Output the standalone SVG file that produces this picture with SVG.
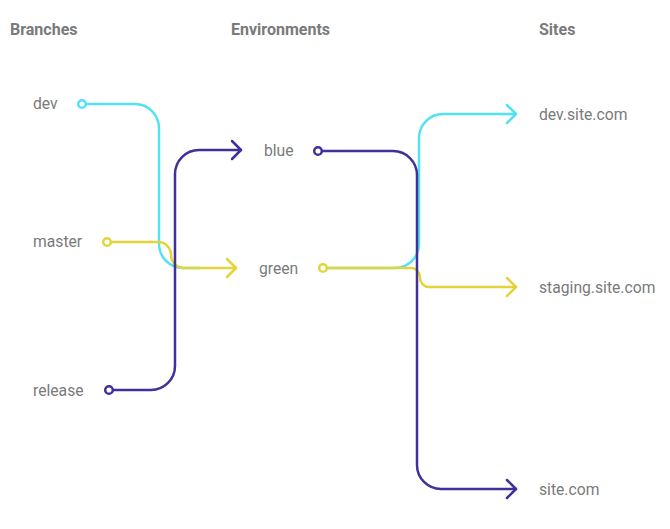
<svg xmlns="http://www.w3.org/2000/svg" width="670" height="529" viewBox="0 0 670 529">
<style>
.hdr{font-family:Roboto,"Liberation Sans",sans-serif;font-weight:bold;font-size:16px;fill:#7a7a7a}
.lbl{font-family:Roboto,"Liberation Sans",sans-serif;font-size:15.7px;fill:#7a7a7a}
.ln{fill:none;stroke-width:2.5;stroke-linecap:round;stroke-linejoin:round}
.cy{stroke:#52E2F2}
.ye{stroke:#E5D33A}
.pu{stroke:#40309A}
.dot{fill:#fff;stroke-width:2.5}
</style>
<rect width="670" height="529" fill="#fff"/>
<g id="headers">
<text class="hdr" x="10" y="35">Branches</text>
<text class="hdr" x="231" y="35">Environments</text>
<text class="hdr" x="539" y="35">Sites</text>
</g>
<g id="connectors">
<path class="ln cy" d="M82 104 H135 A24 24 0 0 1 159 128 V244 A24 24 0 0 0 183 268 H200"/>
<path class="ln cy" d="M323 268 H395 A24 24 0 0 0 419 244 V138 A24 24 0 0 1 443 114 H516"/>
<path class="ln cy" d="M507 105 L516 114 L507 123"/>
<path class="ln ye" d="M107 242 H158 A13 13 0 0 1 171 255 A13 13 0 0 0 184 268 H236"/>
<path class="ln ye" d="M227 259 L236 268 L227 277"/>
<path class="ln ye" d="M323 268 H411 A9 9 0 0 1 420 277 V278 A9 9 0 0 0 429 287 H516"/>
<path class="ln ye" d="M507 278 L516 287 L507 296"/>
<path class="ln pu" d="M109 390 H151 A24 24 0 0 0 175 366 V174 A24 24 0 0 1 199 150 H241"/>
<path class="ln pu" d="M232 141 L241 150 L232 159"/>
<path class="ln pu" d="M318 151 H393 A24 24 0 0 1 417 175 V465 A24 24 0 0 0 441 489 H516"/>
<path class="ln pu" d="M507 480 L516 489 L507 498"/>
</g>
<g id="dev"><circle class="dot cy" cx="82" cy="104" r="3.8"/><text class="lbl" x="33" y="109">dev</text></g>
<g id="master"><circle class="dot ye" cx="107" cy="242" r="3.8"/><text class="lbl" x="33" y="247">master</text></g>
<g id="release"><circle class="dot pu" cx="109" cy="390" r="3.8"/><text class="lbl" x="33" y="396">release</text></g>
<g id="blue"><circle class="dot pu" cx="318" cy="151" r="3.8"/><text class="lbl" x="264" y="156">blue</text></g>
<g id="green"><circle class="dot ye" cx="323" cy="268" r="3.8"/><text class="lbl" x="259" y="274">green</text></g>
<g id="dev-site"><text class="lbl" x="539" y="120">dev.site.com</text></g>
<g id="staging-site"><text class="lbl" x="539" y="293">staging.site.com</text></g>
<g id="site"><text class="lbl" x="539" y="495">site.com</text></g>
</svg>
